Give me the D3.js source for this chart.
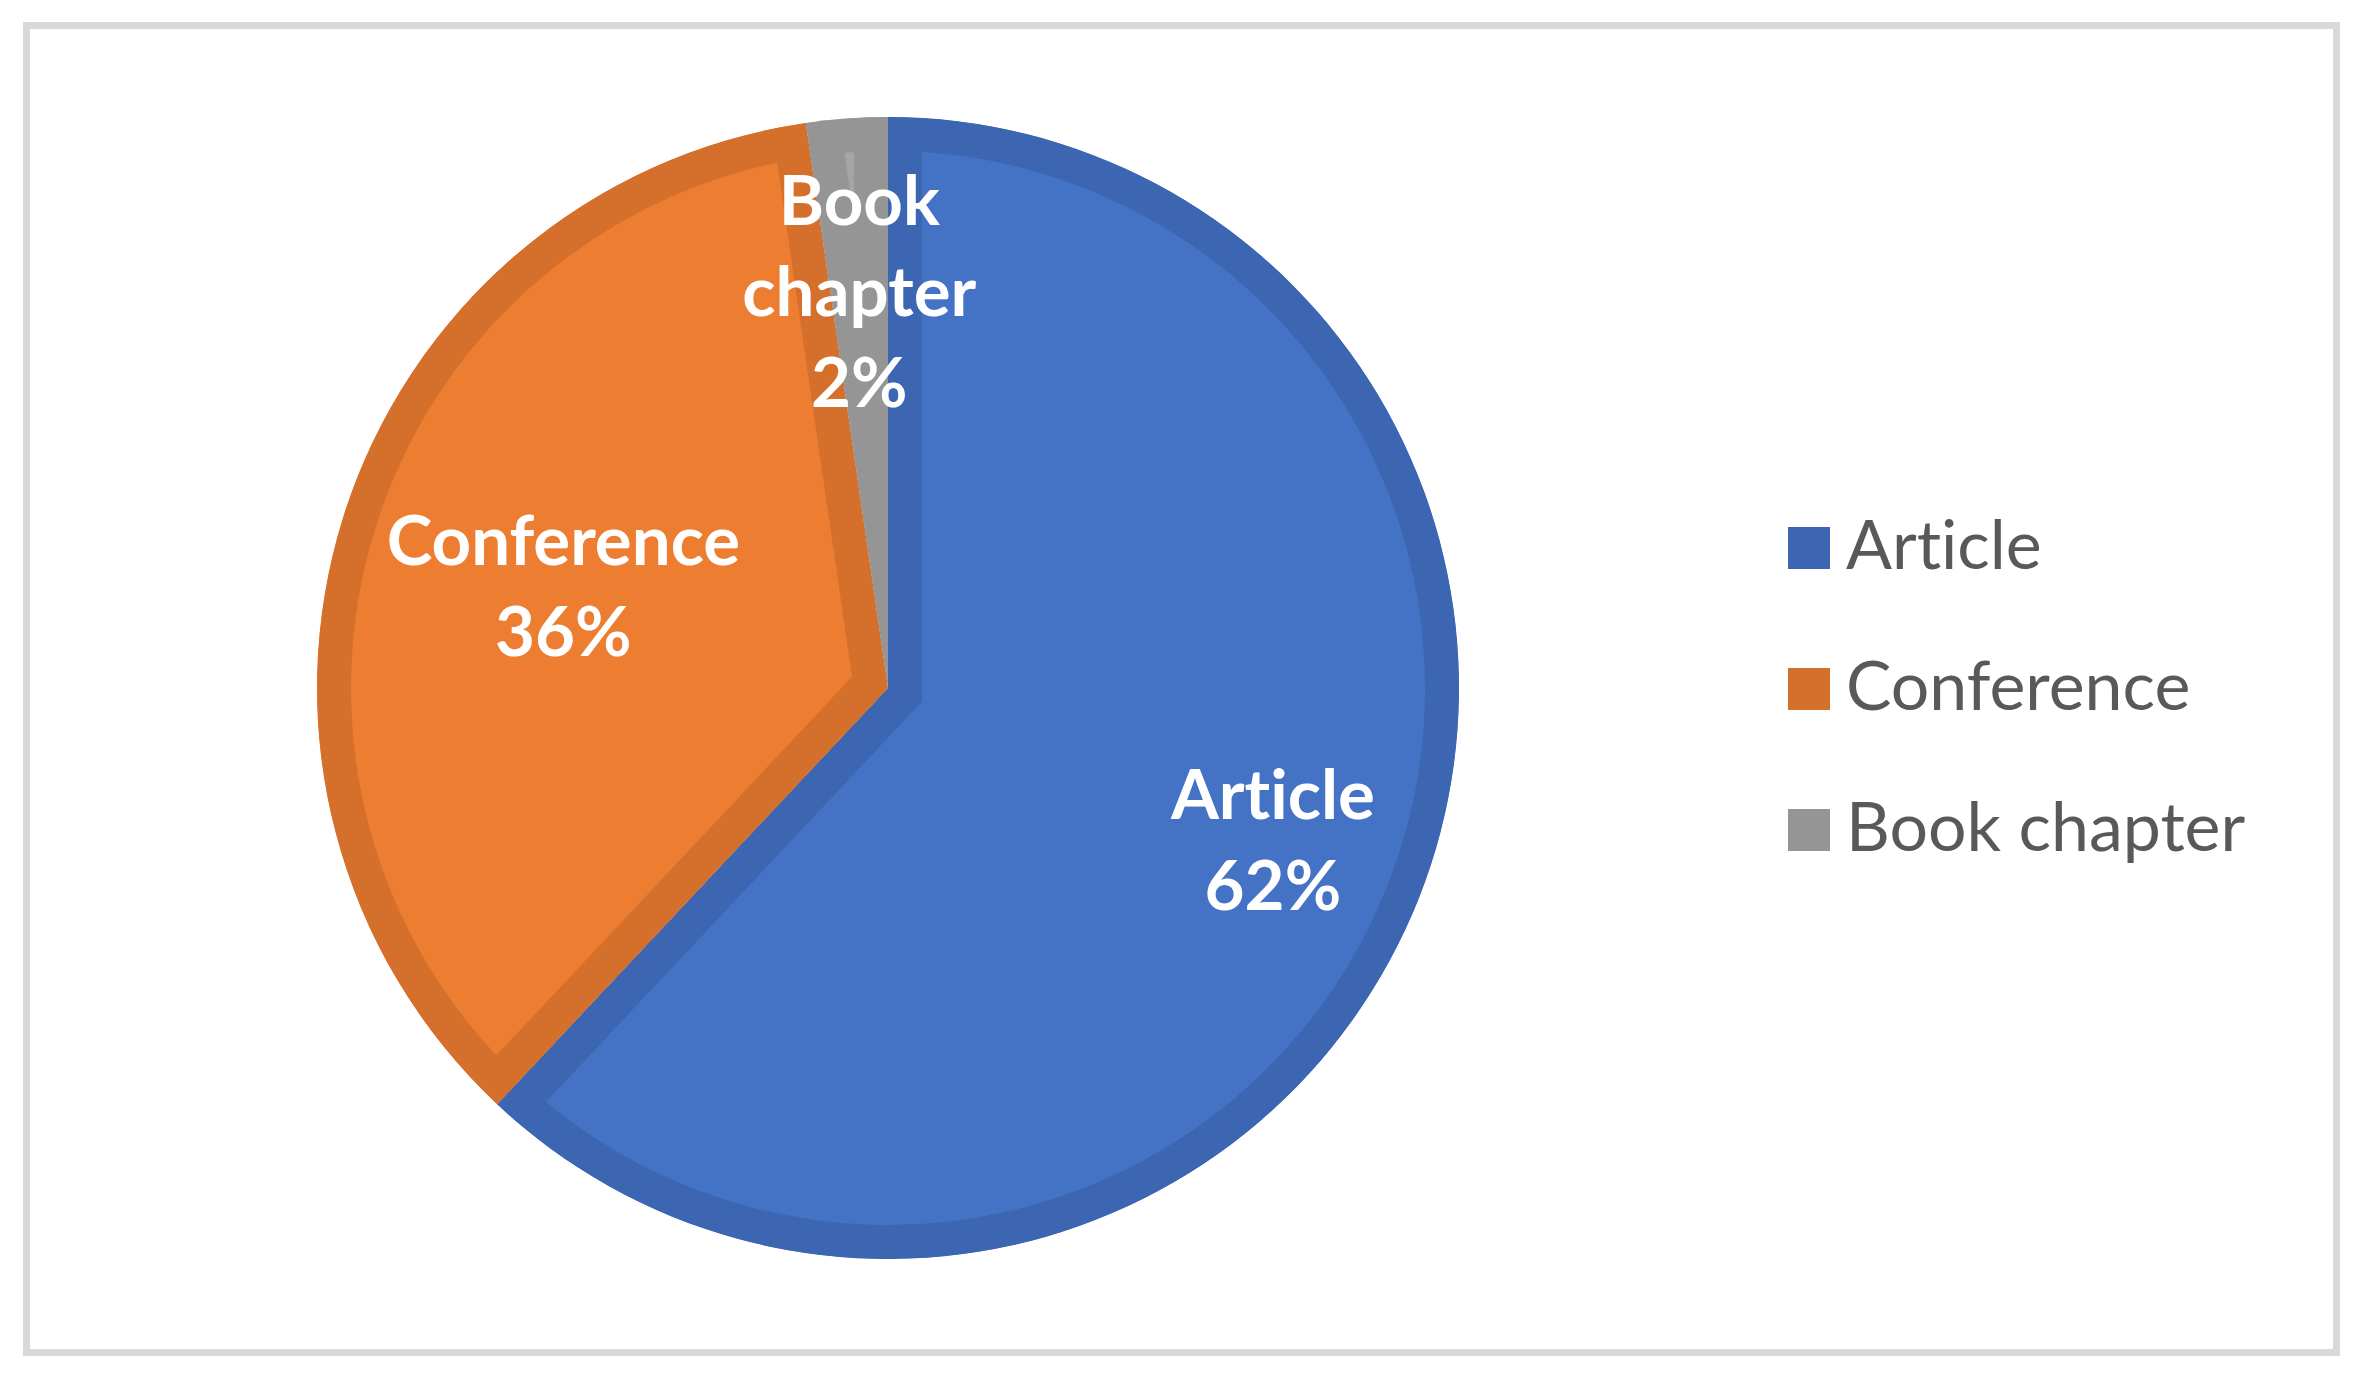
<!DOCTYPE html>
<html>
<head>
<meta charset="utf-8">
<script src="https://cdn.jsdelivr.net/npm/d3@7"></script>
<style>
  html, body { margin: 0; padding: 0; background: #ffffff; }
  svg { display: block; }
  text { font-variant-ligatures: none; font-feature-settings: "liga" 0, "clig" 0; }
</style>
</head>
<body>
<svg id="chart" width="2364" height="1379"></svg>
<script>
// ---- data ----
const categories = ["Article", "Conference", "Book chapter"];
const values = [62, 35.7, 2.3];
const labelPercents = ["62%", "36%", "2%"];

// ---- layout / style ----
const fillColors = ["#4472C4", "#ED7D31", "#A5A5A5"];
const edgeColors = ["#3C66B1", "#D5702C", "#959595"];
const labelRadiusFactor = [0.725, 0.596, 0.697];

const W = 2364, H = 1379;
const cx = 888, cy = 688, R = 571;
const band = 34;

const svg = d3.select("#chart");

// frame
svg.append("rect")
  .attr("x", 26.5).attr("y", 25.5)
  .attr("width", 2336.5 - 26.5).attr("height", 1352.5 - 25.5)
  .attr("fill", "#ffffff")
  .attr("stroke", "#d9d9d9")
  .attr("stroke-width", 7);

const pie = d3.pie().sort(null).value(d => d.value);
const data = categories.map((c, i) => ({ name: c, value: values[i], pct: labelPercents[i], i }));
const arcs = pie(data);
const arc = d3.arc().innerRadius(0).outerRadius(R);

const defs = svg.append("defs");
const g = svg.append("g").attr("transform", `translate(${cx},${cy})`);

arcs.forEach((d, i) => {
  defs.append("clipPath").attr("id", "clip" + i)
    .append("path").attr("d", arc(d));
});

g.selectAll("path.slice")
  .data(arcs)
  .join("path")
  .attr("class", "slice")
  .attr("d", arc)
  .attr("fill", d => fillColors[d.data.i])
  .attr("stroke", d => edgeColors[d.data.i])
  .attr("stroke-width", band * 2)
  .attr("stroke-linejoin", "miter")
  .attr("clip-path", d => `url(#clip${d.data.i})`);

// data labels
const fontFam = "Lato, 'Open Sans', sans-serif";
const fs = 69, lineH = 91, capH = 49;
arcs.forEach((d) => {
  const i = d.data.i;
  const k = labelRadiusFactor[i] * R;
  const [lx, ly] = d3.arc().innerRadius(k).outerRadius(k).centroid(d);
  const nameWords = d.data.name === "Book chapter" ? ["Book", "chapter"] : [d.data.name];
  const lines = nameWords.concat([d.data.pct]);
  const total = (lines.length - 1) * lineH + capH;
  const first = ly - total / 2 + capH;
  const t = g.append("text")
    .attr("text-anchor", "middle")
    .attr("font-family", fontFam)
    .attr("font-weight", 700)
    .attr("font-size", fs)
    .attr("fill", "#ffffff");
  lines.forEach((ln, j) => {
    t.append("tspan").attr("x", lx).attr("y", first + j * lineH).text(ln);
  });
});

// legend
const legX = 1788, legY0 = 527, legStep = 141, sw = 42;
const leg = svg.append("g");
const items = leg.selectAll("g.item").data(data).join("g").attr("class", "item")
  .attr("transform", (d, j) => `translate(${legX},${legY0 + j * legStep})`);
items.append("rect")
  .attr("width", sw).attr("height", sw)
  .attr("fill", d => edgeColors[d.i]);
items.append("text")
  .attr("x", 58).attr("y", sw)
  .attr("font-family", fontFam)
  .attr("font-size", 68)
  .attr("fill", "#595959")
  .text(d => d.name);
</script>
</body>
</html>
